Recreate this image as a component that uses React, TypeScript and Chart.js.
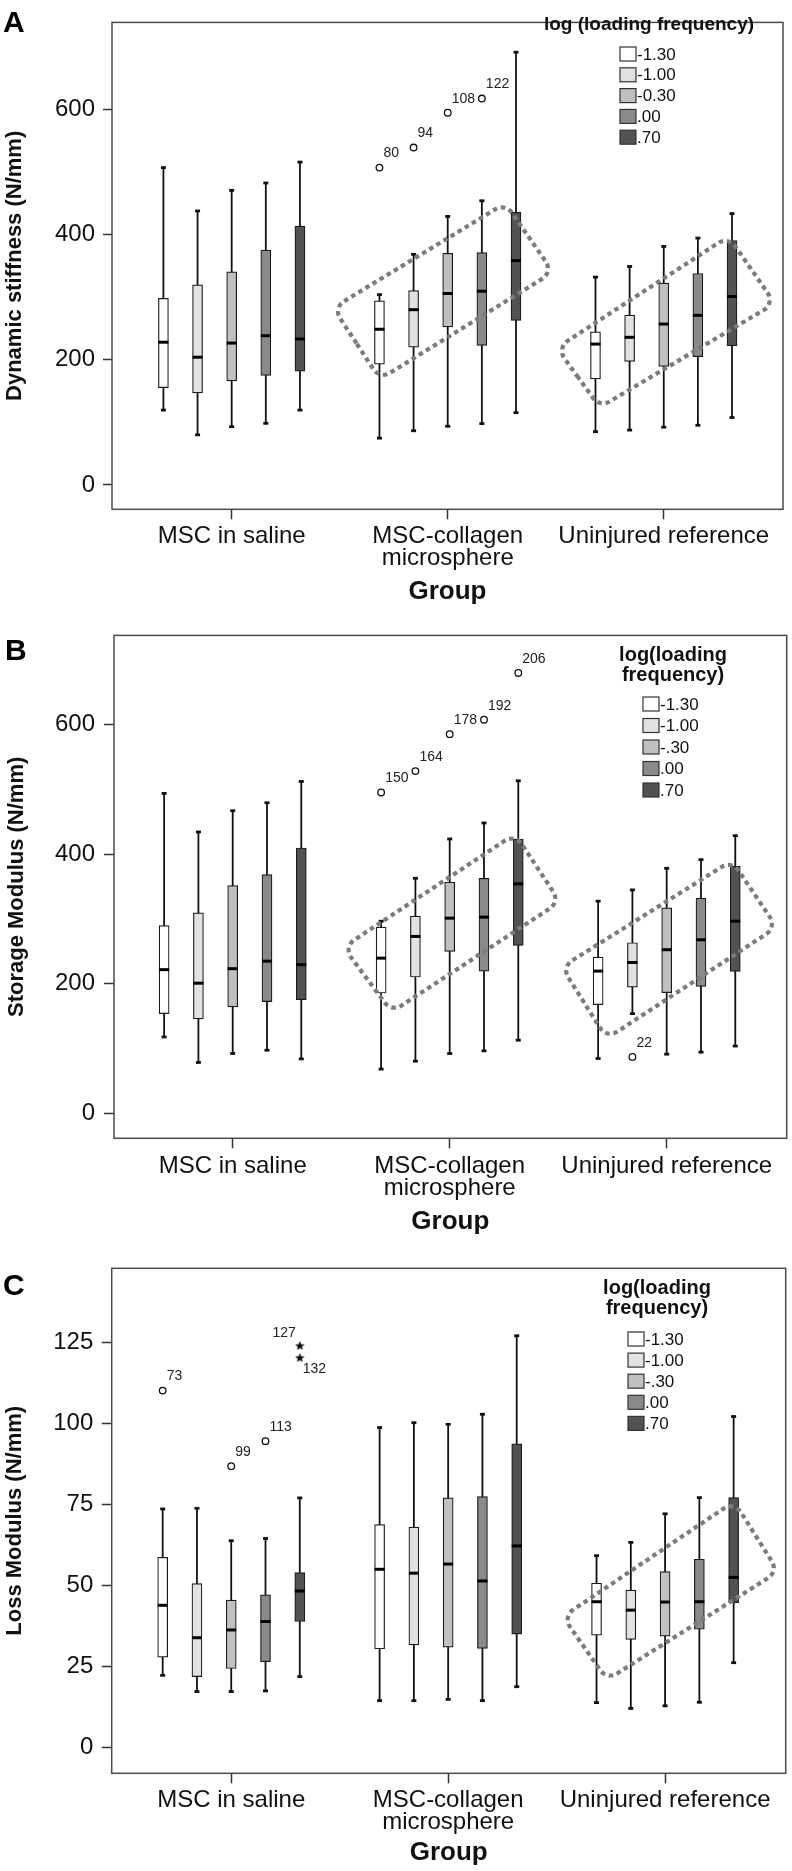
import React, { useEffect, useRef } from 'react';
import { Chart, registerables } from 'chart.js';

Chart.register(...registerables);

const FONT = "'Liberation Sans', Arial, Helvetica, sans-serif";

// ---------- data ----------
const groupLabels = [['MSC in saline'], ['MSC-collagen', 'microsphere'], ['Uninjured reference']];
const freqColors = ['#ffffff', '#e2e2e2', '#c0c0c0', '#8a8a8a', '#525252'];
const freqLabelsA = ['-1.30', '-1.00', '-0.30', '.00', '.70'];
const freqLabelsBC = ['-1.30', '-1.00', '-.30', '.00', '.70'];
const legendTitleA = ['log (loading frequency)'];
const legendTitleBC = ['log(loading', 'frequency)'];
const ticksAB = [0, 200, 400, 600];
const ticksC = [0, 25, 50, 75, 100, 125];

// rows = loading frequency (-1.30 ... .70), columns = group
const aMin = [[119.5, 74.7, 85], [80, 86.5, 87.6], [93, 93.7, 92.2], [98.4, 97.9, 95.3], [119.5, 115.4, 107.6]];
const aQ1 = [[155.5, 193, 169.4], [147, 220, 197.2], [166.3, 252.3, 189.5], [175, 223, 205], [181.8, 263, 222.4]];
const aMed = [[228, 248.7, 225], [204, 280, 235.8], [226.6, 305.8, 257], [238.4, 309.5, 270.9], [233.2, 358.3, 301]];
const aQ3 = [[298, 294, 244.6], [319.7, 310.5, 271.4], [340.4, 370, 322.3], [375.3, 371.2, 337.8], [413.4, 435.5, 390.3]];
const aMax = [[507, 304, 332], [437.7, 368.4, 349], [470.6, 429, 381], [482.4, 454, 394.4], [515.8, 691.4, 433.5]];
const aOutliers = [
  { g: 1, f: 0, v: 507, label: '80', pos: 'ur' },
  { g: 1, f: 1, v: 539, label: '94', pos: 'ur' },
  { g: 1, f: 2, v: 594.6, label: '108', pos: 'ur' },
  { g: 1, f: 3, v: 617.3, label: '122', pos: 'ur' },
];
const aExtremes: any[] = [];
const aOutlines = [
  [[0.47, 283], [1.266, 450], [1.488, 340], [0.686, 169]],
  [[1.505, 219], [2.299, 397], [2.515, 290], [1.704, 124]],
];

const bMin = [[118, 68.3, 84.7], [78.6, 80.6, 154], [92.4, 92.4, 91.4], [97.5, 96.5, 94.5], [84.1, 113, 104]];
const bQ1 = [[154, 185.8, 168], [145.8, 210.5, 195], [164.3, 250, 186.4], [172.6, 219.7, 196.1], [175.7, 259.3, 219.2]];
const bMed = [[221.9, 239.7, 219.7], [201, 273.2, 233], [223.4, 301.4, 252.7], [235, 303, 268], [229.6, 354.4, 296.7]];
const bQ3 = [[290, 287.5, 241.3], [309.7, 304.5, 263.5], [351.8, 356.9, 317.4], [368.7, 363, 332.2], [409.8, 423.7, 381.5]];
const bMax = [[494, 296.7, 327.6], [434.5, 363, 345], [467.3, 423.7, 378.4], [479.6, 448.4, 391.8], [512.5, 513.5, 428.8]];
const bOutliers = [
  { g: 1, f: 0, v: 495.5, label: '150', pos: 'ur' },
  { g: 1, f: 1, v: 528.5, label: '164', pos: 'ur' },
  { g: 1, f: 2, v: 585.5, label: '178', pos: 'ur' },
  { g: 1, f: 3, v: 607.8, label: '192', pos: 'ur' },
  { g: 1, f: 4, v: 680, label: '206', pos: 'ur' },
  { g: 2, f: 1, v: 87.2, label: '22', pos: 'ur' },
];
const bExtremes: any[] = [];
const bOutlines = [
  [[0.51, 256.7], [1.301, 431.4], [1.508, 326.6], [0.733, 156.6]],
  [[1.516, 225.9], [2.3, 390.3], [2.507, 287.5], [1.724, 115.6]],
];

const cMin = [[22.3, 14.5, 13.9], [17.3, 14.5, 12.1], [17.3, 14.9, 12.9], [17.5, 14.5, 14], [21.9, 18.8, 26.2]];
const cQ1 = [[27.9, 30.5, 34.7], [21.9, 31.7, 33.4], [24.4, 31, 34.4], [26.5, 30.6, 36.5], [38.9, 35, 44.7]];
const cMed = [[43.9, 55, 45], [33.9, 53.8, 42.4], [36.3, 56.6, 44.9], [38.9, 51.4, 45], [48.3, 62.2, 52.5]];
const cQ3 = [[58.7, 68.8, 50.7], [50.6, 68, 48.6], [45.5, 77, 54.3], [47.1, 77.4, 58.1], [54, 93.7, 77.1]];
const cMax = [[73.6, 98.7, 59.2], [73.8, 100.2, 63.3], [63.8, 99.7, 72.1], [64.5, 102.8, 77.1], [77, 127, 102.1]];
const cOutliers = [
  { g: 0, f: 0, v: 110.1, label: '73', pos: 'ur' },
  { g: 0, f: 2, v: 86.8, label: '99', pos: 'ur' },
  { g: 0, f: 3, v: 94.5, label: '113', pos: 'ur' },
];
const cExtremes = [
  { g: 0, f: 4, v: 124, label: '127', pos: 'ul' },
  { g: 0, f: 4, v: 120.3, label: '132', pos: 'lr' },
];
const cOutlines = [
  [[1.529, 40.4], [2.318, 75.9], [2.522, 54.3], [1.732, 20.9]],
];

// ---------- layout ----------
const SLOT = 0.158;

const panels = [
  {
    key: 'A', top: 0, height: 612, padTop: 5, padBottom: 4.7, padRight: 9, yWidth: 112, xHeight: 98,
    xMin: -0.554, xMax: 2.552, yMin: -39, yMax: 739, yTicks: ticksAB, yTitle: 'Dynamic stiffness (N/mm)',
    yTickPad: 8, yTickLen: 9, xTickPad: 6.4, yTitlePad: 2,
    wMin: aMin, q1: aQ1, med: aMed, q3: aQ3, wMax: aMax, outliers: aOutliers, extremes: aExtremes, outlines: aOutlines,
    legendTitle: legendTitleA, legendLabels: freqLabelsA,
    legend: { titleX: 649, titleY: 25, titleSize: 19, titleStep: 20, sqX: 620, itemY: 54, step: 20.8 },
    letter: { x: 3, y: 32 },
  },
  {
    key: 'B', top: 612, height: 628, padTop: 22.3, padBottom: 2.7, padRight: 5.3, yWidth: 114, xHeight: 99,
    xMin: -0.547, xMax: 2.553, yMin: -38.5, yMax: 738, yTicks: ticksAB, yTitle: 'Storage Modulus (N/mm)',
    yTickPad: 9, yTickLen: 10, xTickPad: 6.7, yTitlePad: 4,
    wMin: bMin, q1: bQ1, med: bMed, q3: bQ3, wMax: bMax, outliers: bOutliers, extremes: bExtremes, outlines: bOutlines,
    legendTitle: legendTitleBC, legendLabels: freqLabelsBC,
    legend: { titleX: 673, titleY: 43, titleSize: 20, titleStep: 20, sqX: 643, itemY: 92, step: 21.5 },
    letter: { x: 5, y: 48 },
  },
  {
    key: 'C', top: 1240, height: 631, padTop: 28.3, padBottom: 2.1, padRight: 6.3, yWidth: 111.7, xHeight: 95.6,
    xMin: -0.551, xMax: 2.556, yMin: -7.9, yMax: 147.8, yTicks: ticksC, yTitle: 'Loss Modulus (N/mm)',
    yTickPad: 8.4, yTickLen: 10, xTickPad: 5.7, yTitlePad: 2,
    wMin: cMin, q1: cQ1, med: cMed, q3: cQ3, wMax: cMax, outliers: cOutliers, extremes: cExtremes, outlines: cOutlines,
    legendTitle: legendTitleBC, legendLabels: freqLabelsBC,
    legend: { titleX: 657, titleY: 48.3, titleSize: 20, titleStep: 20, sqX: 628, itemY: 99, step: 21.1 },
    letter: { x: 3, y: 55 },
  },
];

function makeStar(size: number) {
  const c = document.createElement('canvas');
  c.width = size;
  c.height = size;
  const ctx = c.getContext('2d')!;
  ctx.fillStyle = '#111';
  ctx.beginPath();
  for (let i = 0; i < 10; i++) {
    const r = i % 2 === 0 ? size / 2 : size / 4.6;
    const a = -Math.PI / 2 + (i * Math.PI) / 5;
    const px = size / 2 + r * Math.cos(a);
    const py = size / 2 + r * Math.sin(a) + size * 0.05;
    if (i === 0) ctx.moveTo(px, py);
    else ctx.lineTo(px, py);
  }
  ctx.closePath();
  ctx.fill();
  return c;
}

function makePlugin(cfg: any) {
  return {
    id: 'boxExtras' + cfg.key,
    beforeDatasetsDraw(chart: any) {
      const { ctx, scales } = chart;
      const x = scales.x;
      const y = scales.y;
      ctx.save();
      ctx.strokeStyle = '#111';
      ctx.lineWidth = 1.8;
      cfg.wMin.forEach((row: number[], f: number) =>
        row.forEach((lo: number, g: number) => {
          const px = x.getPixelForValue(g + (f - 2) * SLOT);
          ctx.beginPath();
          ctx.moveTo(px, y.getPixelForValue(lo));
          ctx.lineTo(px, y.getPixelForValue(cfg.wMax[f][g]));
          ctx.stroke();
        })
      );
      ctx.restore();
    },
    afterDatasetsDraw(chart: any) {
      const { ctx, chartArea: a, scales } = chart;
      const x = scales.x;
      const y = scales.y;
      ctx.save();
      // whisker caps & medians
      cfg.wMin.forEach((row: number[], f: number) =>
        row.forEach((lo: number, g: number) => {
          const px = x.getPixelForValue(g + (f - 2) * SLOT);
          ctx.fillStyle = '#111';
          [lo, cfg.wMax[f][g]].forEach((v: number) => {
            ctx.fillRect(px - 2.5, y.getPixelForValue(v) - 1.4, 5, 2.8);
          });
          const my = y.getPixelForValue(cfg.med[f][g]);
          ctx.strokeStyle = '#000';
          ctx.lineWidth = 3;
          ctx.beginPath();
          ctx.moveTo(px - 5, my);
          ctx.lineTo(px + 5, my);
          ctx.stroke();
        })
      );
      // outlier labels
      ctx.fillStyle = '#222';
      ctx.font = `14px ${FONT}`;
      ctx.textBaseline = 'middle';
      [...cfg.outliers, ...cfg.extremes].forEach((o: any) => {
        const px = x.getPixelForValue(o.g + (o.f - 2) * SLOT);
        const py = y.getPixelForValue(o.v);
        if (o.pos === 'ul') {
          ctx.textAlign = 'right';
          ctx.fillText(o.label, px - 4, py - 12);
        } else if (o.pos === 'lr') {
          ctx.textAlign = 'left';
          ctx.fillText(o.label, px + 3, py + 12);
        } else {
          ctx.textAlign = 'left';
          ctx.fillText(o.label, px + 4, py - 14);
        }
      });
      // dotted outlines
      ctx.strokeStyle = '#7c7c7c';
      ctx.lineWidth = 4.2;
      ctx.setLineDash([4.5, 3.8]);
      ctx.lineCap = 'butt';
      cfg.outlines.forEach((shape: number[][]) => {
        const pts = shape.map((p) => [x.getPixelForValue(p[0]), y.getPixelForValue(p[1])]);
        const n = pts.length;
        const sx = (pts[n - 1][0] + pts[0][0]) / 2;
        const sy = (pts[n - 1][1] + pts[0][1]) / 2;
        ctx.beginPath();
        ctx.moveTo(sx, sy);
        for (let i = 0; i < n; i++) {
          const p = pts[i];
          const q = pts[(i + 1) % n];
          ctx.arcTo(p[0], p[1], q[0], q[1], 12);
        }
        ctx.closePath();
        ctx.stroke();
      });
      ctx.setLineDash([]);
      // frame
      ctx.strokeStyle = '#4a4a4a';
      ctx.lineWidth = 1.5;
      ctx.strokeRect(a.left, a.top, a.right - a.left, a.bottom - a.top);
      // legend
      const L = cfg.legend;
      ctx.fillStyle = '#111';
      ctx.textAlign = 'center';
      ctx.textBaseline = 'middle';
      ctx.font = `bold ${L.titleSize}px ${FONT}`;
      cfg.legendTitle.forEach((t: string, i: number) => ctx.fillText(t, L.titleX, L.titleY + i * L.titleStep));
      ctx.font = `17px ${FONT}`;
      ctx.textAlign = 'left';
      cfg.legendLabels.forEach((lab: string, i: number) => {
        const cy = L.itemY + i * L.step;
        ctx.fillStyle = freqColors[i];
        ctx.fillRect(L.sqX, cy - 7, 16, 14);
        ctx.strokeStyle = '#333';
        ctx.lineWidth = 1.2;
        ctx.strokeRect(L.sqX, cy - 7, 16, 14);
        ctx.fillStyle = '#111';
        ctx.fillText(lab, L.sqX + 17, cy + 1);
      });
      // panel letter
      ctx.font = `bold 30px ${FONT}`;
      ctx.textAlign = 'left';
      ctx.textBaseline = 'alphabetic';
      ctx.fillStyle = '#000';
      ctx.fillText(cfg.key, cfg.letter.x, cfg.letter.y);
      ctx.restore();
    },
  };
}

function Panel({ cfg }: { cfg: any }) {
  const ref = useRef<HTMLCanvasElement>(null);
  useEffect(() => {
    const canvas = ref.current!;
    const datasets: any[] = cfg.q1.map((row: number[], f: number) => ({
      type: 'bar',
      label: cfg.legendLabels[f],
      data: row.map((lo: number, g: number) => ({ x: g + (f - 2) * SLOT, y: [lo, cfg.q3[f][g]] })),
      backgroundColor: freqColors[f],
      borderColor: '#1a1a1a',
      borderWidth: 1.2,
      borderSkipped: false,
      barThickness: 10,
      grouped: false,
    }));
    datasets.push({
      type: 'scatter',
      label: 'outliers',
      data: cfg.outliers.map((o: any) => ({ x: o.g + (o.f - 2) * SLOT, y: o.v })),
      pointStyle: 'circle',
      radius: 3.3,
      borderWidth: 1.3,
      borderColor: '#111',
      backgroundColor: '#fff',
    });
    if (cfg.extremes.length) {
      datasets.push({
        type: 'scatter',
        label: 'extremes',
        data: cfg.extremes.map((o: any) => ({ x: o.g + (o.f - 2) * SLOT, y: o.v })),
        pointStyle: makeStar(10),
        radius: 5,
      });
    }
    const chart = new Chart(canvas, {
      type: 'bar',
      data: { datasets },
      options: {
        responsive: false,
        animation: false,
        events: [],
        layout: { padding: { top: cfg.padTop, bottom: cfg.padBottom, left: 0, right: cfg.padRight } },
        plugins: { legend: { display: false }, tooltip: { enabled: false }, title: { display: false } },
        scales: {
          x: {
            type: 'linear',
            min: cfg.xMin,
            max: cfg.xMax,
            offset: false,
            bounds: 'data',
            afterBuildTicks: (s: any) => {
              s.ticks = groupLabels.map((_, i) => ({ value: i }));
            },
            afterFit: (s: any) => {
              s.height = cfg.xHeight;
            },
            grid: { display: true, drawOnChartArea: false, drawTicks: true, tickLength: 10, tickWidth: 1.5, tickColor: '#333', offset: false },
            border: { display: false },
            ticks: {
              autoSkip: false,
              maxRotation: 0,
              minRotation: 0,
              padding: cfg.xTickPad,
              color: '#111',
              font: { family: FONT, size: 24, lineHeight: 0.92 },
              callback: (v: any) => groupLabels[Math.round(v)] || '',
            },
            title: { display: true, text: 'Group', color: '#111', font: { family: FONT, size: 26, weight: 'bold' }, padding: { top: 0, bottom: 0 } },
          },
          y: {
            type: 'linear',
            min: cfg.yMin,
            max: cfg.yMax,
            bounds: 'data',
            afterBuildTicks: (s: any) => {
              s.ticks = cfg.yTicks.map((v: number) => ({ value: v }));
            },
            afterFit: (s: any) => {
              s.width = cfg.yWidth;
            },
            grid: { display: true, drawOnChartArea: false, drawTicks: true, tickLength: cfg.yTickLen, tickWidth: 1.5, tickColor: '#333' },
            border: { display: false },
            ticks: { padding: cfg.yTickPad, color: '#111', font: { family: FONT, size: 24 }, callback: (v: any) => String(v) },
            title: { display: true, text: cfg.yTitle, color: '#111', font: { family: FONT, size: 22, weight: 'bold' }, padding: { top: cfg.yTitlePad, bottom: 0 } },
          },
        },
      } as any,
      plugins: [makePlugin(cfg)],
    });
    return () => chart.destroy();
  }, [cfg]);
  return (
    <canvas
      ref={ref}
      width={792}
      height={cfg.height}
      style={{ position: 'absolute', left: 0, top: cfg.top, width: 792, height: cfg.height, display: 'block' }}
    />
  );
}

export default function App() {
  return (
    <div style={{ position: 'absolute', left: 0, top: 0, width: 792, height: 1871, background: '#fff' }}>
      {panels.map((p) => (
        <Panel key={p.key} cfg={p} />
      ))}
    </div>
  );
}
